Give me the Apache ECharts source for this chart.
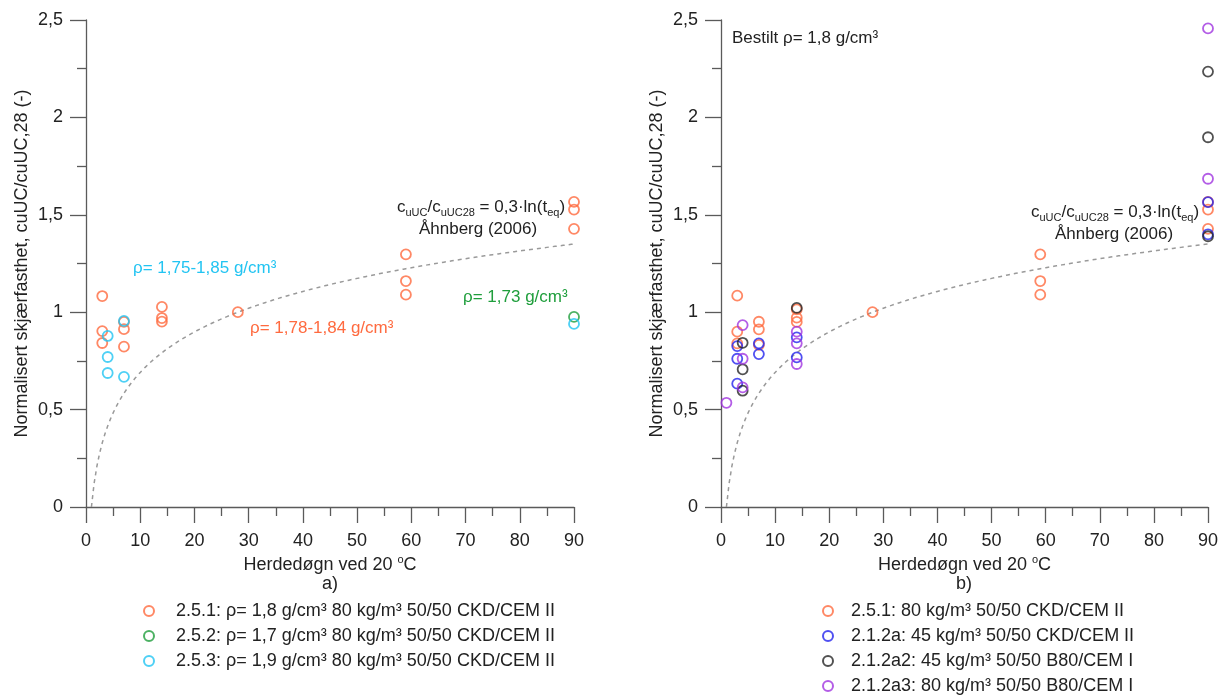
<!DOCTYPE html>
<html>
<head>
<meta charset="utf-8">
<title>Normalisert skjærfasthet</title>
<script src="https://cdn.jsdelivr.net/npm/echarts@6/dist/echarts.min.js"></script>
<style>
  html, body { margin: 0; padding: 0; background: #fff; }
  #chart { width: 1230px; height: 696px; }
</style>
</head>
<body>
<div id="chart"></div>
<script>
// Tick labels (Norwegian decimal comma)
const xTickLabels = ['0', '10', '20', '30', '40', '50', '60', '70', '80', '90'];
const yTickLabels = ['0', '0,5', '1', '1,5', '2', '2,5'];

// Panel a) — [herdedøgn, normalisert skjærfasthet]
const a251 = [[3, 1.083], [3, 0.903], [3, 0.842], [7, 0.950], [7, 0.913], [7, 0.823],
              [14, 1.027], [14, 0.970], [14, 0.952], [28, 1.000],
              [59, 1.297], [59, 1.160], [59, 1.090], [90, 1.566], [90, 1.527], [90, 1.428]];
const a252 = [[90, 0.976]];
const a253 = [[4, 0.878], [4, 0.770], [4, 0.688], [7, 0.955], [7, 0.668], [90, 0.940]];

// Panel b)
const b251 = [[3, 1.085], [3, 0.900], [3, 0.840], [7, 0.951], [7, 0.912], [7, 0.832],
              [14, 1.015], [14, 0.972], [14, 0.950], [28, 1.000],
              [59, 1.297], [59, 1.160], [59, 1.090], [90, 1.566], [90, 1.527], [90, 1.428]];
const b212a = [[3, 0.826], [3, 0.761], [3, 0.633], [7, 0.840], [7, 0.785],
               [14, 0.871], [14, 0.768], [90, 1.565], [90, 1.400]];
const b212a2 = [[4, 0.843], [4, 0.707], [4, 0.597], [14, 1.022], [90, 2.235], [90, 1.898], [90, 1.390]];
const b212a3 = [[1, 0.535], [4, 0.934], [4, 0.761], [4, 0.614], [14, 0.900], [14, 0.840], [14, 0.734],
                [90, 2.457], [90, 1.685]];

// Åhnberg (2006): cuUC/cuUC28 = 0,3·ln(t_eq)
const modelDays = [];
for (let t = 1; t <= 90; t += 0.5) modelDays.push(t);
const modelCurve = modelDays.map(t => [t, 0.3 * Math.log(t)]);

const legendA = ['2.5.1: ρ= 1,8 g/cm³ 80 kg/m³ 50/50 CKD/CEM II',
                 '2.5.2: ρ= 1,7 g/cm³ 80 kg/m³ 50/50 CKD/CEM II',
                 '2.5.3: ρ= 1,9 g/cm³ 80 kg/m³ 50/50 CKD/CEM II'];
const legendB = ['2.5.1: 80 kg/m³ 50/50 CKD/CEM II',
                 '2.1.2a: 45 kg/m³ 50/50 CKD/CEM II',
                 '2.1.2a2: 45 kg/m³ 50/50 B80/CEM I',
                 '2.1.2a3: 80 kg/m³ 50/50 B80/CEM I'];

const ORANGE = '#ff6a3f', GREEN = '#1f9e3c', CYAN = '#22c4f2',
      BLUE = '#2424ee', BLACK = '#262626', PURPLE = '#a035e0';
const TEXT = '#222';
const AXIS = '#5a5a5a';
const FONT = 'Liberation Sans, Arial, sans-serif';

const chart = echarts.init(document.getElementById('chart'), null, { renderer: 'canvas' });

function xAxisDef(gridIndex) {
  return {
    gridIndex, type: 'value', min: 0, max: 90, interval: 10,
    name: 'Herdedøgn ved 20 {sup|o}C',
    nameLocation: 'middle', nameGap: 45,
    nameTextStyle: {
      fontFamily: FONT, fontSize: 18, color: TEXT, lineHeight: 20,
      rich: { sup: { fontFamily: FONT, fontSize: 11, color: TEXT, verticalAlign: 'top', lineHeight: 11 } }
    },
    axisLine: { onZero: false, lineStyle: { color: AXIS, width: 1.3 } },
    axisTick: { length: 16, lineStyle: { color: AXIS, width: 1.3 } },
    minorTick: { show: true, splitNumber: 2, length: 9, lineStyle: { color: AXIS, width: 1.3 } },
    axisLabel: { margin: 25, fontFamily: FONT, fontSize: 18, color: TEXT,
                 formatter: v => xTickLabels[Math.round(v / 10)] },
    splitLine: { show: false }
  };
}

function yAxisDef(gridIndex) {
  return {
    gridIndex, type: 'value', min: 0, max: 2.5, interval: 0.5,
    name: 'Normalisert skjærfasthet, cuUC/cuUC,28 (-)',
    nameLocation: 'middle', nameGap: 55,
    nameTextStyle: { fontFamily: FONT, fontSize: 18, color: TEXT },
    axisLine: { show: true, onZero: false, lineStyle: { color: AXIS, width: 1.3 } },
    axisTick: { show: true, length: 16, lineStyle: { color: AXIS, width: 1.3 } },
    minorTick: { show: true, splitNumber: 2, length: 9, lineStyle: { color: AXIS, width: 1.3 } },
    axisLabel: { margin: 23, fontFamily: FONT, fontSize: 18, color: TEXT,
                 formatter: v => yTickLabels[Math.round(v / 0.5)] },
    splitLine: { show: false }
  };
}

function pts(name, data, color, idx) {
  return {
    name, type: 'scatter', data, xAxisIndex: idx, yAxisIndex: idx,
    symbol: 'circle', symbolSize: 10,
    itemStyle: { color: 'rgba(255,255,255,0)', borderColor: color, borderWidth: 1.8 },
    emphasis: { disabled: true }, z: 3
  };
}

function curve(idx) {
  return {
    name: 'Åhnberg (2006)', type: 'line', data: modelCurve, xAxisIndex: idx, yAxisIndex: idx,
    showSymbol: false, smooth: false, silent: true,
    lineStyle: { color: '#9a9a9a', width: 1.5, type: [4, 4] }, z: 2
  };
}

const subRich = {
  sub: { fontFamily: FONT, fontSize: 11, color: TEXT, verticalAlign: 'bottom', lineHeight: 12 }
};

function txt(x, y, text, color, align, rich, size) {
  const fs = size || 17;
  return {
    type: 'text', x, y, silent: true,
    style: {
      text, fill: color, font: fs + 'px ' + FONT, align: align || 'left', verticalAlign: 'middle',
      fontFamily: FONT, fontSize: fs, lineHeight: 22, rich: rich || undefined
    }
  };
}

const formula = 'c{sub|uUC}/c{sub|uUC28} = 0,3·ln(t{sub|eq})';

function legendDef(names, left, textPad) {
  return {
    data: names, orient: 'vertical', left, top: 602,
    itemWidth: 10, itemHeight: 10, itemGap: 7, padding: 0, selectedMode: false,
    textStyle: { fontFamily: FONT, fontSize: 18, color: TEXT, padding: [0, 0, 0, textPad] }
  };
}

const option = {
  animation: false,
  backgroundColor: '#fff',
  textStyle: { fontFamily: FONT },
  grid: [
    { left: 86, width: 488, top: 20, height: 487 },
    { left: 721, width: 487, top: 20, height: 487 }
  ],
  xAxis: [xAxisDef(0), xAxisDef(1)],
  yAxis: [yAxisDef(0), yAxisDef(1)],
  legend: [legendDef(legendA, 143, 17), legendDef(legendB, 822, 13)],
  series: [
    curve(0),
    pts(legendA[0], a251, ORANGE, 0),
    pts(legendA[1], a252, GREEN, 0),
    pts(legendA[2], a253, CYAN, 0),
    curve(1),
    pts(legendB[0], b251, ORANGE, 1),
    pts(legendB[1], b212a, BLUE, 1),
    pts(legendB[2], b212a2, BLACK, 1),
    pts(legendB[3], b212a3, PURPLE, 1)
  ],
  graphic: [
    txt(481, 207, formula, TEXT, 'center', subRich),
    txt(478, 229, 'Åhnberg (2006)', TEXT, 'center'),
    txt(133, 268, 'ρ= 1,75-1,85 g/cm³', CYAN),
    txt(250, 328, 'ρ= 1,78-1,84 g/cm³', ORANGE),
    txt(463, 297, 'ρ= 1,73 g/cm³', GREEN),
    txt(1115, 212, formula, TEXT, 'center', subRich),
    txt(1114, 234, 'Åhnberg (2006)', TEXT, 'center'),
    txt(732, 38, 'Bestilt ρ= 1,8 g/cm³', TEXT),
    txt(330, 584, 'a)', TEXT, 'center', null, 18),
    txt(964, 584, 'b)', TEXT, 'center', null, 18)
  ]
};

chart.setOption(option);
</script>
</body>
</html>
